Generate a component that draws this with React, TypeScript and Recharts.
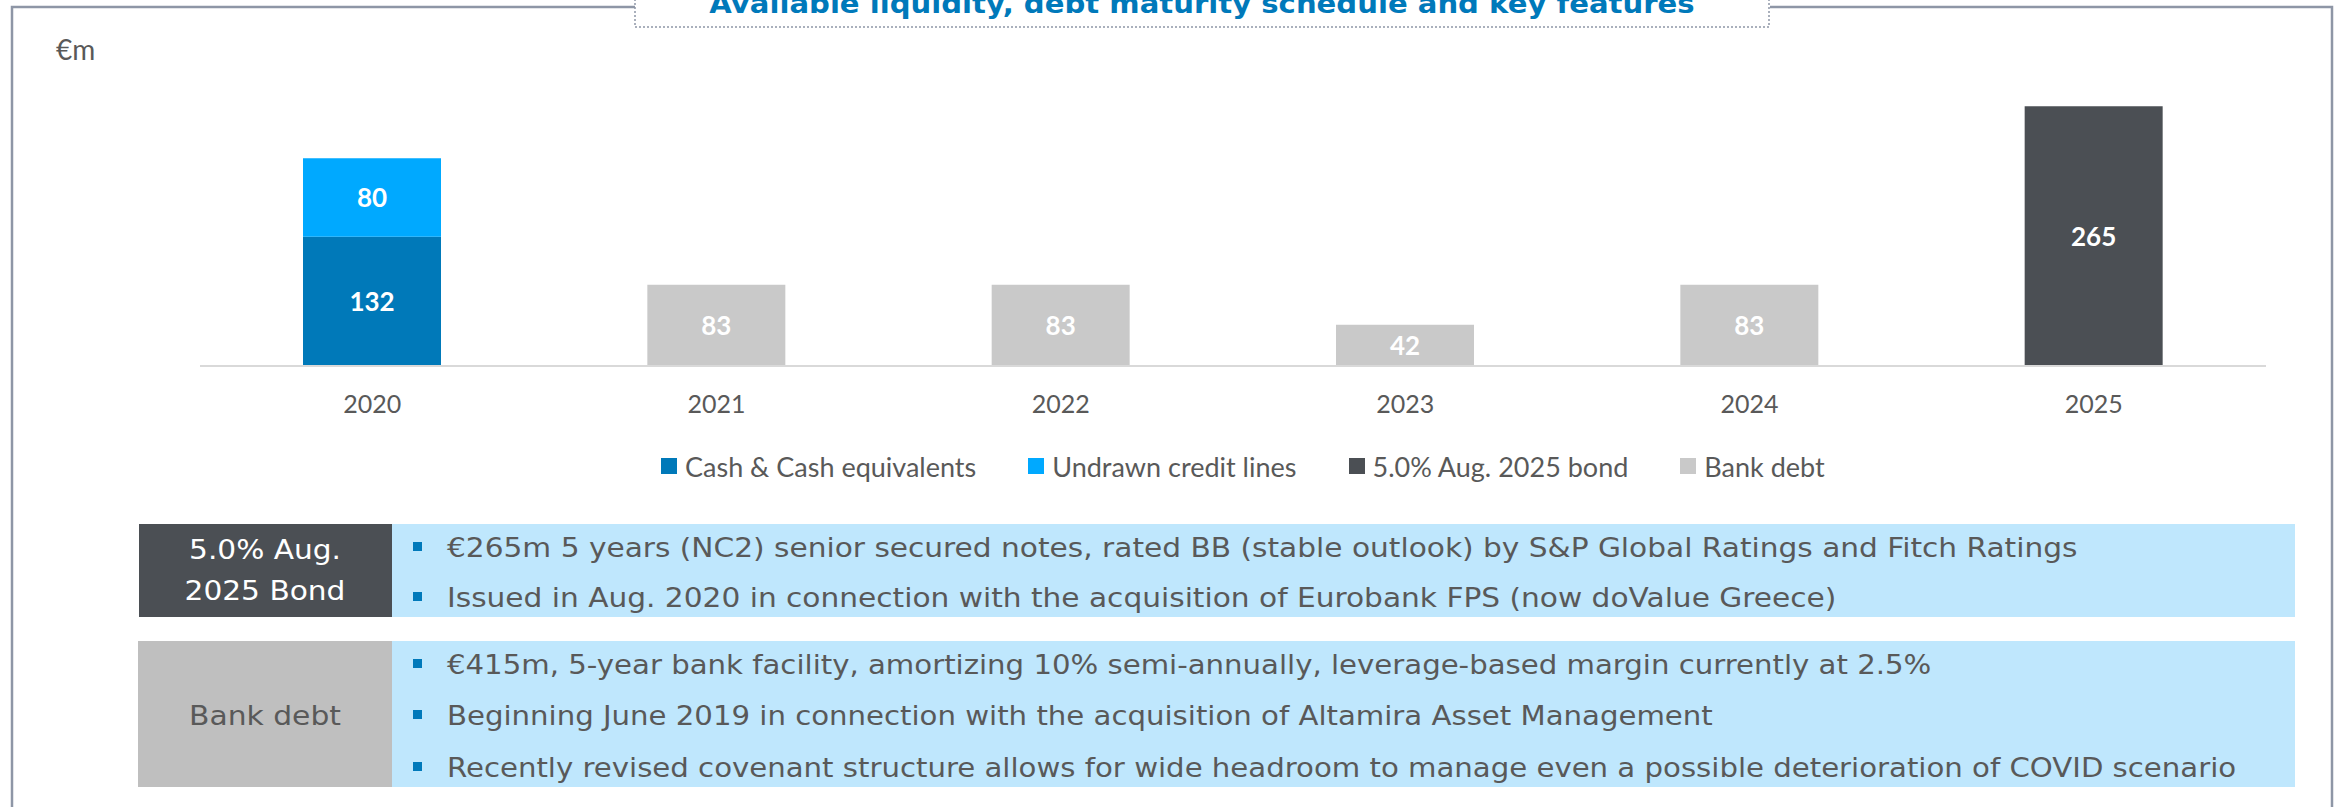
import React from 'react';
import { BarChart, Bar, XAxis, YAxis, Legend, LabelList } from 'recharts';

const years = ['2020', '2021', '2022', '2023', '2024', '2025'];
const cashValues: (number | null)[] = [132, null, null, null, null, null];
const undrawnValues: (number | null)[] = [80, null, null, null, null, null];
const bondValues: (number | null)[] = [null, null, null, null, null, 265];
const bankDebtValues: (number | null)[] = [null, 83, 83, 42, 83, null];

const seriesKeys = ['cash', 'undrawn', 'bond', 'bank'];
const seriesNames = ['Cash & Cash equivalents', 'Undrawn credit lines', '5.0% Aug. 2025 bond', 'Bank debt'];
const seriesColors = ['#0079B9', '#00A9FF', '#4B4F54', '#C9C9C9'];

const titleText = 'Available liquidity, debt maturity schedule and key features';
const unitLabel = '€m';

const bondHeader = ['5.0% Aug.', '2025 Bond'];
const bondBullets = [
  '€265m 5 years (NC2) senior secured notes, rated BB (stable outlook) by S&P Global Ratings and Fitch Ratings',
  'Issued in Aug. 2020 in connection with the acquisition of Eurobank FPS (now doValue Greece)',
];
const bankHeader = ['Bank debt'];
const bankBullets = [
  '€415m, 5-year bank facility, amortizing 10% semi-annually, leverage-based margin currently at 2.5%',
  'Beginning June 2019 in connection with the acquisition of Altamira Asset Management',
  'Recently revised covenant structure allows for wide headroom to manage even a possible deterioration of COVID scenario',
];

const data = years.map((y, i) => ({
  year: y,
  cash: cashValues[i],
  undrawn: undrawnValues[i],
  bond: bondValues[i],
  bank: bankDebtValues[i],
}));

const TEXT_GRAY = '#595959';
const FRAME = '#8E96A6';
const BLUE = '#0079BA';
const LIGHT = '#BFE7FD';
const STRETCH = 1.14;
const BANK_STRETCH = 1.123;

const stretchAt = (x0: number, k: number = STRETCH) => `translate(${x0},0) scale(${k},1) translate(${-x0},0)`;

const renderLabel = (props: any) => {
  const { x, y, width, height, value } = props;
  if (value === null || value === undefined || value === '') return null;
  return (
    <text
      x={Number(x) + Number(width) / 2}
      y={Number(y) + Number(height) / 2}
      textAnchor="middle"
      dominantBaseline="central"
      fill="#FFFFFF"
      fontFamily="Lato"
      fontWeight={700}
      fontSize={26}
    >
      {value}
    </text>
  );
};

const YearTick = (props: any) => {
  const { x, y, payload } = props;
  return (
    <text x={x} y={y} dy={47} textAnchor="middle" fill={TEXT_GRAY} fontFamily="Lato" fontSize={25}>
      {payload.value}
    </text>
  );
};

const LegendContent = () => (
  <div
    style={{
      display: 'flex',
      justifyContent: 'flex-start',
      alignItems: 'center',
      gap: 52,
      height: 40,
      fontFamily: 'Lato',
      fontSize: 27,
      color: TEXT_GRAY,
      paddingLeft: 661,
      whiteSpace: 'nowrap',
    }}
  >
    {seriesNames.map((n, i) => (
      <div key={n} style={{ display: 'flex', alignItems: 'center' }}>
        <span style={{ display: 'inline-block', width: 16, height: 16, background: seriesColors[i], marginRight: 8 }} />
        <span>{n}</span>
      </div>
    ))}
  </div>
);

const BulletRow = ({ lines, baselines, stretch }: { lines: string[]; baselines: number[]; stretch: number }) => (
  <g>
    {lines.map((t, i) => (
      <g key={i}>
        <rect x={413} y={baselines[i] - 15} width={9} height={9} fill={BLUE} />
        <text x={447} y={baselines[i]} fill={TEXT_GRAY} fontFamily="DejaVu Sans" fontSize={26} transform={stretchAt(447, stretch)}>
          {t}
        </text>
      </g>
    ))}
  </g>
);

export default function App() {
  return (
    <div style={{ position: 'absolute', left: 0, top: 0, width: 2343, height: 807, background: '#fff', overflow: 'hidden' }}>
      <svg width={2343} height={807} style={{ position: 'absolute', left: 0, top: 0 }}>
        {/* frame */}
        <path d="M12,807 L12,7 L635,7" fill="none" stroke={FRAME} strokeWidth={2.5} />
        <path d="M1770,7 L2332,7 L2332,807" fill="none" stroke={FRAME} strokeWidth={2.5} />
        {/* title box */}
        <path d="M635,-5 L635,27 L1769,27 L1769,-5" fill="none" stroke={FRAME} strokeWidth={1.5} strokeDasharray="2 2" />
        <text
          x={1202}
          y={13}
          textAnchor="middle"
          fill={BLUE}
          fontFamily="DejaVu Sans"
          fontWeight={700}
          fontSize={26}
          transform={stretchAt(1202, 1.12)}
        >
          {titleText}
        </text>
        <text x={56} y={60} fill={TEXT_GRAY} fontFamily="Lato" fontSize={28}>
          {unitLabel}
        </text>

        {/* bond table */}
        <rect x={139} y={524} width={253} height={93} fill="#4B4F54" />
        <rect x={392} y={524} width={1903} height={93} fill={LIGHT} />
        {bondHeader.map((t, i) => (
          <text
            key={t}
            x={265}
            y={559 + i * 41}
            textAnchor="middle"
            fill="#FFFFFF"
            fontFamily="DejaVu Sans"
            fontSize={26}
            transform={stretchAt(265)}
          >
            {t}
          </text>
        ))}
        <BulletRow lines={bondBullets} baselines={[557, 607]} stretch={STRETCH} />

        {/* bank table */}
        <rect x={138} y={641} width={254} height={146} fill="#BFBFBF" />
        <rect x={392} y={641} width={1903} height={146} fill={LIGHT} />
        {bankHeader.map((t) => (
          <text
            key={t}
            x={265}
            y={725}
            textAnchor="middle"
            fill={TEXT_GRAY}
            fontFamily="DejaVu Sans"
            fontSize={26.5}
            transform={stretchAt(265, BANK_STRETCH)}
          >
            {t}
          </text>
        ))}
        <BulletRow lines={bankBullets} baselines={[674, 725, 777]} stretch={BANK_STRETCH} />
      </svg>

      <div style={{ position: 'absolute', left: 0, top: 0 }}>
        <BarChart width={2343} height={500} data={data} margin={{ top: 72, right: 77, left: 200, bottom: 74 }}>
          <XAxis
            dataKey="year"
            height={60}
            tickSize={0}
            tickMargin={0}
            tickLine={false}
            axisLine={{ stroke: '#D9D9D9', strokeWidth: 2 }}
            tick={<YearTick />}
            interval={0}
          />
          <YAxis hide domain={[0, 300]} />
          <Legend verticalAlign="middle" align="center" wrapperStyle={{ top: 446, left: 0, width: 2343 }} content={<LegendContent />} />
          {seriesKeys.map((k, i) => (
            <Bar key={k} dataKey={k} name={seriesNames[i]} stackId="a" fill={seriesColors[i]} barSize={138} isAnimationActive={false}>
              <LabelList dataKey={k} content={renderLabel} />
            </Bar>
          ))}
        </BarChart>
      </div>
    </div>
  );
}
